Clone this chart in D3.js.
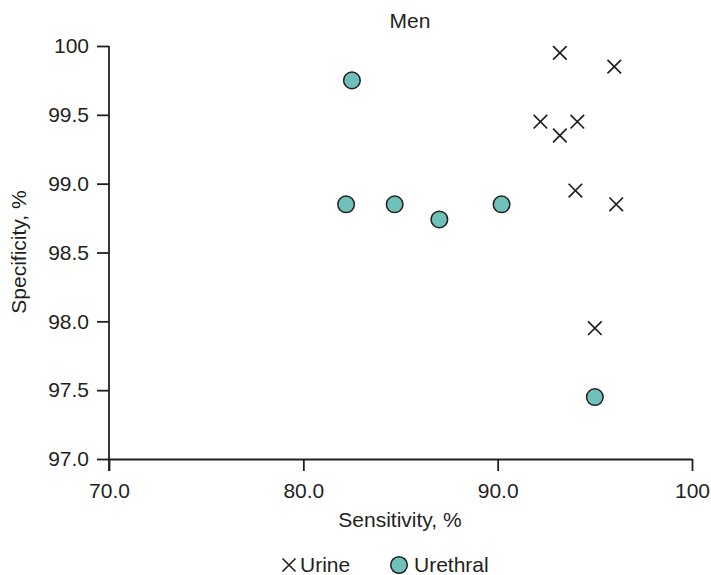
<!DOCTYPE html>
<html><head><meta charset="utf-8">
<script src="https://cdn.jsdelivr.net/npm/d3@7"></script>
<style>body{margin:0;background:#fff}svg{display:block}text{font-family:"Liberation Sans",Arial,sans-serif;fill:#231f20}</style>
</head><body><svg id="c" width="711" height="575"></svg>
<script>
const urineSens = [93.2, 96.0, 92.2, 94.1, 93.2, 94.0, 96.1, 95.0];
const urineSpec = [99.95, 99.85, 99.45, 99.45, 99.35, 98.95, 98.85, 97.95];
const urethralSens = [82.5, 82.2, 84.7, 87.0, 90.2, 95.0];
const urethralSpec = [99.75, 98.85, 98.85, 98.74, 98.85, 97.45];
const xTicks = [70, 80, 90, 100];
const xTickLabels = ["70.0", "80.0", "90.0", "100"];
const yTicks = [97, 97.5, 98, 98.5, 99, 99.5, 100];
const yTickLabels = ["97.0", "97.5", "98.0", "98.5", "99.0", "99.5", "100"];
const seriesNames = ["Urine", "Urethral"];

const svg = d3.select("#c");
const ink = "#231f20";
const teal = "#6fc0b9";
const FS = 21;
const x = d3.scaleLinear().domain([70, 100]).range([109, 692]);
const y = d3.scaleLinear().domain([97, 100]).range([459, 46]);

const gx = svg.append("g").attr("transform", `translate(0,${y(97)})`)
  .call(d3.axisBottom(x).tickValues(xTicks).tickFormat((d, i) => xTickLabels[i]).tickSize(12).tickPadding(12).tickSizeOuter(0));
const gy = svg.append("g").attr("transform", `translate(${x(70)},0)`)
  .call(d3.axisLeft(y).tickValues(yTicks).tickFormat((d, i) => yTickLabels[i]).tickSize(12).tickPadding(8).tickSizeOuter(0));
[gx, gy].forEach(g => {
  g.select(".domain").attr("stroke", ink).attr("stroke-width", 1.8);
  g.selectAll(".tick line").attr("stroke", ink).attr("stroke-width", 1.8);
  g.selectAll(".tick text").style("font-size", FS + "px").attr("fill", ink);
});
gy.select(".domain").attr("d", `M0,${y(100)}V${y(97) + 12}`);

const xSym = (cx, cy, s) => `M${cx - s},${cy - s}L${cx + s},${cy + s}M${cx - s},${cy + s}L${cx + s},${cy - s}`;

svg.append("g").selectAll("path").data(urineSens.map((d, i) => [d, urineSpec[i]])).join("path")
  .attr("d", d => xSym(x(d[0]), y(d[1]), 6.8)).attr("stroke", ink).attr("stroke-width", 1.7).attr("fill", "none");

svg.append("g").selectAll("circle").data(urethralSens.map((d, i) => [d, urethralSpec[i]])).join("circle")
  .attr("cx", d => x(d[0])).attr("cy", d => y(d[1])).attr("r", 8.3)
  .attr("fill", teal).attr("stroke", ink).attr("stroke-width", 1.5);

svg.append("text").attr("x", 410).attr("y", 28).attr("text-anchor", "middle").style("font-size", FS + "px").text("Men");
svg.append("text").attr("x", 400).attr("y", 527).attr("text-anchor", "middle").style("font-size", FS + "px").text("Sensitivity, %");
svg.append("text").attr("transform", "translate(26,252) rotate(-90)").attr("text-anchor", "middle").style("font-size", FS + "px").text("Specificity, %");

// legend
svg.append("path").attr("d", xSym(289, 565, 6.5)).attr("stroke", ink).attr("stroke-width", 1.6).attr("fill", "none");
svg.append("text").attr("x", 300).attr("y", 572).style("font-size", FS + "px").text(seriesNames[0]);
svg.append("circle").attr("cx", 399).attr("cy", 565).attr("r", 8.3).attr("fill", teal).attr("stroke", ink).attr("stroke-width", 1.5);
svg.append("text").attr("x", 414).attr("y", 572).style("font-size", FS + "px").text(seriesNames[1]);
</script></body></html>
